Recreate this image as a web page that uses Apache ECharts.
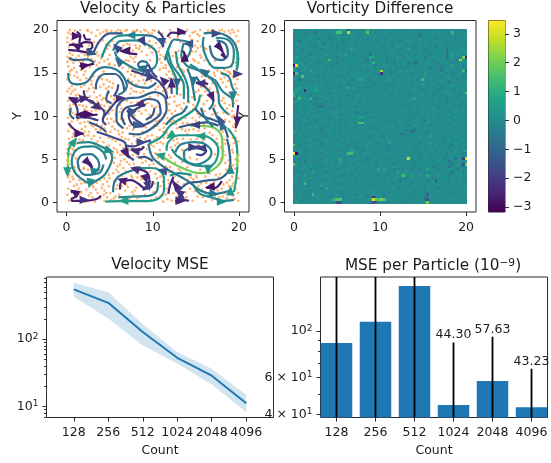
<!DOCTYPE html>
<html><head><meta charset="utf-8"><style>html,body{margin:0;padding:0;background:#fff}#c{width:551px;height:463px}</style>
<script src="https://cdn.jsdelivr.net/npm/echarts@6/dist/echarts.min.js"></script></head>
<body><div id="c"></div><script>
const counts=['128','256','512','1024','2048','4096'];
const velMean=[552,348,128,53,28.7,11.2];
const velUpper=[692,501,167,64.6,36.5,15];
const velLower=[428,204,81,43.4,21.3,8.2];
const perParticle=[87.6,110.4,163.8,44.30,57.63,43.23];
const errHigh=[600,600,600,87.9,93.6,65.9];
const errLow=[5,5,5,5,20,20];
const fieldTicks=[0,10,20];
const fieldYTicks=[0,5,10,15,20];
const barTicks=[-3,-2,-1,0,1,2,3];
const viridis=['#440154','#482475','#414487','#355f8d','#2a788e','#21918c','#22a884','#44bf70','#7ad151','#bddf26','#fde725'];
// streamlines: [speed fraction, points]
const streamlines=[
[.62,[[.2,3.5],[.15,4.3]]],[.85,[[.15,4.3],[.2,5.3]]],[.68,[[.2,5.3],[.3,6.3],[.9,7.1]]],
[.5,[[1.2,6.9],[2.6,7],[3.8,6.6],[5,5.9],[5.3,5.2],[5,4.2],[4.4,3.2],[3.4,2.5],[2.8,2.2],[1.8,2.7],[.9,3.6],[.6,4.8],[.9,5.8],[1.7,6.4],[3,6.5],[4.2,5.9],[4.6,5]]],
[.45,[[4.3,4.4],[3.9,3.5],[3.2,3.3],[2.2,3.2],[1.5,3.8],[1.3,4.7],[1.8,5.5],[2.8,5.6],[3.6,5],[3.8,4.2],[3.4,3.6]]],
[.1,[[2.2,4.9],[2.6,4.4],[3,4],[2.7,4.6],[2.3,4.8]]],
[.1,[[.5,1.2],[1,1.3],[1.2,.8],[.6,.4],[.6,.2],[2.2,.2],[3.5,.4],[4,.8]]],
[.6,[[4.5,.1],[6.5,.15],[9,.15],[10.7,.5],[11.3,1.5],[11.3,2.7],[10.8,3.7],[9.8,4],[8.2,4]]],
[.45,[[5.4,1.2],[5.5,2.2],[6,3],[7,3.5],[8.2,3.9]]],
[.5,[[6,.6],[8,.7],[9.7,.8],[10.5,1.4],[10.6,2.4]]],
[.12,[[6.2,1.5],[6.4,2.5],[7.5,2.6],[8.3,2.2],[9,1.7],[9.6,2.6],[9.3,3.5],[8,4],[7.8,4.1]]],
[.15,[[8.8,1.5],[9.8,1.8],[10,2.5]]],
[.12,[[12.6,.1],[13.2,.3],[14.2,.2]]],[.12,[[12.3,2.6],[12.6,1.8],[13,1.2],[13.6,.5]]],[.12,[[11.8,1],[12,2],[12.4,3]]],
[.78,[[10.9,5.5],[12.8,4.3],[15.5,3.4],[17,3.8],[18.1,5.3],[18,7.6],[16.7,8.8],[14.3,8.9]]],
[.58,[[9.5,6.8],[11,7.6],[12,8.9],[14,10.2],[15,11],[15.5,12.5]]],
[.45,[[9.5,6.8],[10,5.2],[11.6,3.9],[13.9,2.6],[15.5,1.4],[17,1],[19,1.4]]],
[.65,[[19.4,1.2],[19.7,3],[19.8,4.2]]],[.8,[[19.8,4.2],[19.8,5.6]]],[.6,[[19.8,5.6],[19.6,7.2],[18.7,8.6]]],
[.6,[[11.6,6],[11.8,7],[13,7.8],[15.5,7.8],[17,7.2],[17.6,6],[17.3,4.8],[16.5,4]]],
[.55,[[12.2,6.2],[12.8,5.4],[14.5,4.4],[16,4.2]]],
[.5,[[12.6,5.8],[13.2,6.7],[14.8,7],[16,6.8],[16.8,5.8],[16.3,4.9],[15,4.4],[13.7,5],[13.6,5.8],[14.5,6.3],[15.8,6.2]]],
[.2,[[14.7,6.4],[15.3,6.5],[16.2,6],[15.6,5.5],[15,5.6]]],
[.35,[[12.9,1.2],[14,2.2],[15.3,2.4],[16.5,2.6],[17.6,2.7],[18.6,3.4],[19,4.5],[18.8,6.5],[18.6,7.4]]],
[.06,[[16.2,1.7],[17.2,1.7],[18,2.5]]],
[.5,[[14.6,2.2],[15.5,1],[16.8,.6],[18.2,.2],[19.4,.3]]],
[.3,[[13,8.7],[14.8,9.1],[16.3,9.3],[17.6,8.9]]],
[.08,[[.2,17.7],[1.2,17.6],[2.8,17.3]]],[.08,[[1.2,19.8],[1.6,19.3],[1.5,18.6],[1.9,18]]],[.08,[[1.2,18],[2.2,18.6],[2.9,18.5],[3,18],[2.3,17.7]]],[.08,[[2,19.5],[2.3,18.9],[2.8,18.9]]],[.08,[[.3,18.3],[1.2,18.2]]],
[.3,[[3.1,17.3],[3.9,18.8],[5,19.6],[6.5,19.6]]],
[.55,[[4.1,16.8],[4.8,18.4],[6,19.3],[7.5,19.4],[9,19.4]]],[.4,[[9,19.4],[10.2,19.2],[11,18.5]]],
[.5,[[5.4,17.6],[6.2,18.7],[8,18.8],[9.2,18.4],[10.3,17.6],[10.5,16.5],[10,15.5],[8.7,15.3],[7,16],[5.9,16.8],[5.6,17.5]]],
[.08,[[5.7,18],[6.8,17.4],[8.2,17.2]]],
[.4,[[8.6,15.4],[8.3,16],[8.8,16.4],[9.4,16.1],[9.1,15.5]]],
[.45,[[.2,15],[.4,14],[1.3,13.7],[2.4,14],[3.4,15.3],[4.5,15.7],[5.8,15.4],[6.6,14.6],[7,13.5],[6.6,12.8],[6,12.5]]],
[.35,[[3.4,13.1],[3.5,14],[4.4,14.9],[5.6,14.9],[6.4,14.2],[6.7,13]]],
[.06,[[1.5,15.8],[2.4,15.9],[3.2,16.1]]],
[.25,[[5.5,12.3],[5.9,13.1],[6,13.7]]],
[.15,[[.3,12.2],[1,11.6],[1.8,12],[2.8,11.8],[3.8,11]]],
[.2,[[1,11.5],[1.3,10.5],[1.2,9.8],[2,9.9],[3.7,9.5]]],
[.2,[[2,13],[2.3,12],[3.7,11.2],[4.4,10.4],[4.2,9.5],[4.6,9]]],
[.05,[[1.5,10.3],[2.4,10.1],[3.6,10.2]]],
[.15,[[.2,9.2],[1,8.4],[2,7.9]]],
[.25,[[4.3,9.9],[5.4,11.3],[6,12]]],
[.25,[[3.5,8.2],[5.5,7.5],[6.8,6.9],[7,5.7],[7.8,4.9]]],
[.25,[[6.9,6.6],[7.8,6.5],[9,7],[9.8,7.2]]],[.12,[[7.5,6.2],[8.5,6.1],[9,6.5]]],
[.35,[[6.6,8.6],[5.8,9.5],[5.8,10.8],[6.8,12],[8.5,12.2],[10.2,12.8],[11.4,12.2],[11.6,10.8],[11,9.6],[9.6,8.4],[8.3,7.9],[7.2,8]]],
[.3,[[6.8,9],[6.4,10],[6.9,11],[8.2,11.3],[9.4,12],[10.6,11.7],[10.9,10.4],[10,9.5],[9,9]]],
[.2,[[7,10.7],[8,9.6],[9,8.9],[8.2,8.8],[7.5,9.2],[7.2,10.2],[8,10.8],[9.2,11.4]]],
[.2,[[10.6,19.8],[11.2,19],[11.2,18]]],[.12,[[11.7,19.2],[12.2,19.7],[13.8,19.6]]],
[.45,[[11.4,16.5],[11.9,18],[12.5,18.9],[14.2,18.6]]],
[.55,[[11.8,17.5],[12.2,16],[13.1,14.7],[13.6,13.6],[13.6,12]]],
[.55,[[12,18.2],[11.6,17],[12.2,15.5],[12.8,14],[12.8,12.5]]],
[.3,[[12.1,14.4],[12.2,12.6]]],
[.45,[[13.9,16.7],[14.4,17.8],[14,18.6]]],
[.45,[[14,15.5],[14.4,14.5],[14.7,13],[14.9,11.8]]],
[.45,[[15.9,19.6],[17,19.7],[18.6,19.3],[19.6,18.2],[19.9,16.5],[19.7,15.3]]],[.65,[[19.8,17.5],[19.8,15.6]]],
[.5,[[15.9,19.2],[15.8,18.4],[16.2,16.8],[17.2,15.6],[18.2,15.6],[19.2,16],[19.4,17.4],[18.8,18.8],[17.3,19.1]]],
[.4,[[16.6,18.2],[17,16.9],[18,16.5],[18.7,17.2],[18.4,18.4],[17.4,18.8]]],
[.08,[[17.5,18],[18,17.6],[18.4,16.8],[17.9,17.2]]],
[.5,[[14.3,16],[15,15.6],[16,14.8],[17.2,14.2],[18,13],[18.6,12.5],[19.2,12],[19.3,11]]],
[.5,[[13.6,18.5],[13.3,17],[13.9,15.9],[14.8,15.5],[16,15],[17.2,13.8],[17.6,12.6],[17.7,11.5],[18.8,10.2]]],
[.4,[[15,14.6],[15.6,13.8],[16.6,12.8],[17,11.6],[16.5,10.8]]],
[.1,[[15,13.9],[15.9,13.9],[16.4,13.7]]],
[.06,[[13.5,17.6],[13.8,17],[14,16.5]]],
[.1,[[19.9,11.3],[19.7,9.4],[19.6,8.6]]],
[.42,[[14,11.2],[13.4,10.4],[12.5,10],[11.5,9]]],
[.35,[[14.9,10.9],[15.8,10],[17,9.6],[18.3,9]]],
[.35,[[17,11],[17.5,9.8],[18.4,8.5],[18.7,7.5]]],
[.2,[[7.5,15.3],[9,14.8],[10.4,14.3],[11.3,13.3],[11.7,12]]],
[.25,[[9.5,16],[10,15],[10.5,14.5]]],
[.55,[[12.7,17.5],[12.9,16],[13.7,14.5],[14.1,13],[14.1,11.6]]],
[.45,[[15.6,11],[16,9.9],[17,8.8]]],
[.3,[[10.2,11],[10,10.2],[9.2,9.6]]],
[.3,[[2.6,9.3],[3.8,8.8],[4.6,8.2]]],
[.35,[[.3,16.8],[1,16.5],[2.4,16.6],[3.2,16.2]]],
[.4,[[7,14.2],[8,13.5],[9.4,13.3],[10.4,13.9]]],
[.3,[[4.9,13],[4.6,12],[5.2,11.5]]],
[.5,[[17.9,15],[18.8,14.6],[19.2,13.4],[19.6,12.6]]],
[.4,[[.5,11],[.4,10.3],[.9,9.7]]],
[.55,[[12,3.1],[13,3.4],[14.5,3.2]]],
[.3,[[10,4.8],[9,5.3],[8.3,5.2]]]
];
// arrowheads: x, y, dx, dy, speed fraction
const arrowHeads=[[1.2,19.3,1,0,.08],[1.1,18.2,-1,.5,.08],[3,17.3,1,-.3,.3],[2.2,15.9,1,.2,.06],[.7,12,-1,.5,.1],[2.1,12.1,1,.2,.12],[3.3,11.1,-1,-.2,.15],[2.7,10.2,1,0,.05],[1.6,10.2,-1,0,.05],[1.5,8,1,0,.08],[.9,7.1,.6,.8,.62],[.1,3.5,0,-1,.6],[3.4,3.7,1,.2,.5],[2.7,2.2,-.2,-1,.55],[5,6,1,-.3,.55],[2.5,4.6,.5,-.5,.1],[.9,1.2,-1,.6,.08],[2.1,.3,1,0,.15],[6.6,.2,-1,0,.62],[7,5.6,.5,-1,.15],[7.9,6,-1,.2,.15],[8.7,7,1,0,.25],[6.4,2.6,-1,.3,.1],[7.9,3.9,-1,.3,.15],[9.2,2.7,.3,-1,.12],[9.5,1.9,.3,-1,.2],[11.1,3.7,-1,.2,.3],[12.7,2,-.6,1,.12],[13,1.2,-.8,.6,.15],[13.5,.3,1,0,.2],[10.8,5.5,-1,.3,.62],[12,7.7,-.7,-.5,.65],[15.5,7.7,-1,0,.62],[14.9,9,-1,0,.2],[16.4,3.8,0,-1,.55],[15.6,6.3,-1,0,.2],[19,3.9,0,1,.5],[18,9,-.4,1,.4],[19,1.4,0,1,.6],[18,.1,1,0,.55],[17.1,1,1,-.2,.45],[13.2,.2,1,0,.12],[16.6,1.8,-1,-.1,.05],[7.4,19.4,-1,0,.5],[13.4,19.8,1,0,.08],[8.9,18.6,.5,-1,.2],[11.1,18.5,0,-1,.3],[14.1,18.4,-1,0,.3],[17.4,19.6,1,0,.25],[17.8,18,.7,-.7,.08],[13.7,16.9,0,1,.06],[5.8,18,-.7,.7,.25],[6.8,17.6,-1,0,.08],[6,16.4,-.7,.7,.4],[8.9,15.3,.1,-1,.4],[9.5,14.4,-.7,-.7,.2],[11.2,14.2,-.7,.7,.12],[12.8,13.8,0,-1,.35],[15.9,15.2,-.8,.6,.4],[14.7,14,0,-1,.45],[15.5,13.8,-1,0,.15],[16.9,12.2,.5,-1,.1],[17.8,9.6,-.5,1,.3],[19.3,12.3,0,-1,.5],[19.9,14.9,1,0,.2],[19.8,9.4,0,-1,.1],[6.3,12.1,1,.1,.15],[8.4,11.4,-1,-.2,.15],[7.4,10.7,-.7,.7,.3],[8.3,9,1,0,.35],[6.9,5.7,.5,-1,.1],[14.7,6.4,1,0,.2],[12.2,13.9,0,1,.1],[9.4,14.9,0,-1,.3]];
// particle positions x,y read region by region
const particles=[
.3,.2,1.1,.7,1.9,.4,2.6,.8,3.3,.1,3.9,.5,4.7,.6,5.2,.3,6.1,.9,7.3,.4,8.2,.5,9.1,.9,9.8,.3,10.9,.8,11.7,.4,12.2,.2,13.9,.6,14.6,.2,15.2,.7,16.1,.1,16.9,.3,17.7,.6,18.6,.5,19.3,.8,19.9,.2,.1,.9,4.3,.9,5.7,.7,8.8,.2,11.2,.1,
.2,1.6,.9,1.9,1.7,1.2,2.3,1.5,3.1,1.8,3.6,1.1,4.4,1.4,4.9,1.9,5.1,1.1,6.8,1.4,7.6,1.2,8.1,1.7,10.1,1.2,10.9,1.9,11.6,1.6,12.9,1.9,13.8,1.2,14.3,1.6,15.3,1.9,16.1,1.2,17.5,1.4,18.4,1.1,18.8,1.9,19.6,1.6,19.9,1.1,7.1,1.8,2.8,1.1,4.1,1.7,
.4,2.4,1.2,2.1,2.1,2.3,3,2,3.9,2.6,4.7,2.4,5,2.8,6.9,2.1,7.6,2.9,8.7,2.7,10.2,2.2,11.8,2.6,12.9,2.4,13.6,2.1,15.1,2.9,16.2,2.3,17.1,2.4,18.2,2.1,18.9,2.6,19.3,2.2,19.9,2.8,.2,2.9,1.5,2.6,4.2,2.1,5.9,2,11.9,2.2,14.7,2.7,
.3,3.2,.7,3,2,3.9,1,3.7,4.7,3.6,5.4,3.4,6.4,3.1,7.5,3.1,8.6,3,10.3,3.3,11.9,3.5,12.6,3.1,13.2,3.7,14.2,3.2,15,3.1,16.1,3,17.8,3.3,18.5,3.8,19.2,3,19.8,3.6,.1,3.8,5.8,3.8,9.1,3.8,12.3,3.6,14.4,2.9,17.3,3.2,
.3,4.4,.9,4.1,2,4,5.5,4.6,5.9,4.2,6.6,4,7.3,4.4,8.8,4.6,9.6,4.3,10.4,4,11,4.4,12,4.1,13,3.9,13.4,4.7,16.8,4.2,18.4,4.6,19.3,4.3,19.9,4.8,.1,4.9,6.3,4.8,7.8,4.5,9.2,4.8,10.7,4.7,11.8,4.8,18.8,4.9,
.5,5.6,1.1,5.1,5.6,5.2,6.2,5.5,6.7,5,8.2,5.3,9,5.6,9.5,5.1,10.3,5.7,11.3,5,11.9,5.5,14.3,5.2,17.9,5.1,18.4,5.5,19.3,5.8,19.6,5,.1,5.7,5.9,5.8,7.7,5.5,8.7,5.1,10.6,5.2,12.1,5.2,13.1,5.3,15.1,5,17.2,5.6,
.6,6.3,1.1,6.8,.1,6.2,5.5,6.3,6.2,6.7,7.2,6.1,8.3,6.7,9.3,6.2,10.1,6.5,10.8,6.1,11.2,6.8,12.1,6.4,13.4,6.1,14.2,6.6,15.3,6.7,17.9,6.4,18.4,6.8,19.2,6.1,19.7,6.6,3.4,6.8,4.4,6.4,10.5,6.9,12.6,6.6,17.5,6.9,
.3,7.4,1.5,7.3,2.1,7.7,2.9,7.4,3.6,7.1,4.3,7,4.9,7.5,5.7,7.1,6.4,7.6,7.2,7.3,7.8,7.7,8.5,7.5,9.4,7.7,10.2,7.3,10.9,7,11.3,7.5,12.4,7.2,13.5,7.4,14.4,7.3,15.8,7.2,16.9,7.8,17.9,7.8,18.3,7.3,19.3,7.5,19.9,7.1,.9,7.8,3.2,7.7,4.6,7.8,
.2,8.3,.8,8,1.8,8.5,2.6,8.2,3.1,8.8,3.9,8.4,4.6,8.1,5.3,8.8,6,8.3,7,8.6,7.7,8.4,8.8,8.2,10.1,8.7,10.8,8.4,11.6,8.1,12.3,8.2,13.4,8.5,14.2,8.4,15.3,8.3,16.6,8.1,17.4,8.4,19,8.2,19.3,8.8,2.2,8.8,3.4,8.5,4.1,8.9,11.2,8.2,
.4,9,1.6,9.2,2.5,9.4,2.9,9,3.3,9.6,4.9,9.2,5.2,9.7,6.1,9.1,6.6,9.6,9.5,9.3,10.2,9,10.7,9.5,12.1,9.3,12.7,9.1,13.2,9.6,14,9.2,15,9.5,15.9,9.1,16.5,9.7,18.9,9.4,19.2,9.9,.2,9.8,4.7,9.7,11.3,9.2,13.8,9.8,
.7,10.4,.3,10.8,2.1,10.8,2.9,10.6,3.2,11,4.9,10.3,5.3,10.7,6.2,10.5,7.9,10.1,8.7,10.3,9.2,10.7,10.1,10.5,10.6,10.2,11.9,10.7,12.6,10.6,13.3,10.9,14.3,10.5,15.2,10.3,16,10.6,16.9,10.2,18.2,10.4,18.6,10.9,19.2,10.6,3.8,10.9,5,10.9,
.4,11.2,1.5,11.3,2.3,11.1,2.8,11.5,4.4,11.2,4.7,11.6,5,11.1,6.2,11.3,7.5,11.6,8.7,11.7,9.9,11.2,10.4,11.1,11.9,11.4,12.5,11.7,13.1,11.3,14.2,11.6,15.4,11.8,15.9,11.4,16.3,11.8,18.3,11.5,18.9,11.3,19.7,11.8,.2,11.8,3.6,11.7,4.1,11.9,
.5,12.6,1.4,12.5,2.7,12.3,3.2,12.8,3.9,12.4,4.3,12.1,4.9,12.7,5.5,12,7.4,12.6,8.1,12.8,9.2,12.5,11.2,12.9,12,12.2,13.2,12.5,14.1,12.3,15,12.8,15.7,12.4,16.1,12.9,16.8,12.1,18.2,12.1,19.9,12.5,.1,12.9,6.2,12,8.9,12.9,
.3,13.2,1,13.1,1.7,13.4,2.6,13.2,4.3,13.7,4.9,13.4,5.4,13.8,7.5,13.2,8.1,13.7,8.8,13.3,9.7,13.5,10.3,13.1,10.9,13.6,11.7,13.2,12.4,13.4,14,13.3,15.3,13,16.2,13.4,16.9,13.8,18.5,13.4,19.1,13.6,19.7,13.2,2.9,13.7,4.6,13.2,5,14,
.1,14.3,.9,14.7,1.6,14.2,2,14.8,2.9,14.1,3.1,14.6,4.1,14.3,7.2,14.3,7.9,14.6,8.4,14.1,11.6,14.8,12.5,14.6,13.4,14.7,13.2,14.2,15.7,14.6,16.5,14.4,17.9,14.3,18.7,14.1,19.3,14.6,19.8,14.3,7.6,14,8.9,14.2,
.6,15.4,1.2,15.1,2.2,15.2,.2,15.8,7.3,15.6,7.1,15.2,8,15,11.2,15.6,11.9,15.2,12.8,15.7,13.4,15.4,16.5,15.3,17.1,15,17.9,15.1,18.7,15.2,19.4,15.2,19.1,15.7,3.5,15.9,4.3,15.2,5.6,15.9,6.5,15.6,
.6,16.5,.1,16.3,1.1,16.7,1.9,16.3,2.9,16.6,3.8,16.2,4.4,16.4,5,16.1,7.9,16.3,8,16.9,9.7,16.5,11,16.2,11.5,15.9,13,16,14.7,16.6,15.3,16.2,15.6,16.8,17.2,16.4,19.6,16.2,6.9,16.5,7.4,16.9,12.9,16.7,
.4,17.3,.1,16.9,1.4,17,2.1,17.1,3.3,17.7,3.7,17,4.4,17.5,5,17.1,7.4,17.9,8.7,17.5,9.3,17.1,9.9,17.4,10.9,17.1,12.6,17.4,14.3,17.2,15,17.5,15.5,17.1,16.2,17.8,19.8,17.3,8.1,17.9,
.1,18.6,.6,18.9,3.2,18.6,3.5,18.1,4.2,18.8,5,18.2,6.6,18.2,7.3,18.3,8,18.2,9.9,18.2,10.4,18.5,10.8,17.9,13.2,18.6,14.9,18.2,15.2,18.7,16,17.9,19.9,18.7,
.2,19.7,.8,19.2,2.9,19.7,3.4,19.3,4.3,19.8,5.2,19.9,6.3,19.9,7.7,19.9,8.6,19.8,9.5,19.7,10.2,19.9,11.1,19.6,12.9,19.2,14.3,19.3,14.9,19.8,15.4,19.3,16.4,19.9,18.3,19.8,19,19.6,19.7,19.3,19.9,19.9,
.4,20,1.6,20,2.4,20,3.6,20,4.6,20,6,20,7,20,8.2,20,9,20,10,20,12,20,14,20,15.5,20,17,20,18,20,19.2,20];
const particlesMore=[
.6,.5,1.5,.9,2.2,.1,3,.6,4.4,.2,5.5,.5,6.6,.6,7.8,.9,8.5,.7,10.4,.6,11.5,.9,12.8,.7,13.4,.9,15.8,.6,17.2,.8,18.1,.7,19.5,.4,
.6,1.3,1.4,1.6,3.4,1.5,4.6,1.1,5.8,1.6,6.4,1.9,7.9,1.4,10.6,1.7,12.4,1.1,13.1,1.5,14.9,1.3,15.7,1.5,17,1.9,18,1.6,19.2,1.9,
.8,2.7,1.7,2.2,2.5,2.6,3.5,2.3,4.4,2.8,5.5,2.5,6.3,2.7,8.2,2.9,10.5,2.8,11.2,2.4,13.3,2.9,14.1,2.6,15.6,2.2,16.7,2.1,17.6,2.9,18.6,2.3,19.6,2.5,
1.4,3.1,.4,3.6,2.5,3.8,4.9,3.2,6,3.5,6.9,3.6,8.1,3.4,9.7,3.6,10.9,3,11.3,3.3,13.7,3.3,15.5,3.8,16.6,3.4,18.9,3.4,19.5,3.9,
.6,4,1.4,4.3,5.2,4.8,6.2,4.4,7,4.7,8.2,4.1,9.9,4.9,10.1,4.5,11.5,4.2,12.6,4.6,14,4.1,17.7,4.4,18.9,4.2,19.7,4.4,
.8,5.4,5.3,5.7,6.5,5.6,7.3,5.2,8.4,5.7,9.8,5.8,10.9,5.4,12.4,5.9,13.7,5.6,16.6,5.3,18.2,5.9,19,5.3,19.9,5.5,
.3,6.7,.8,6.1,4.9,6.6,5.8,6.1,6.6,6.3,7.6,6.8,8.8,6.4,9.8,6.7,11.6,6.5,12.9,6.9,14.8,6.2,16.4,6.5,18.1,6.1,18.9,6.6,19.4,6.9,
.7,7.6,1.9,7.2,2.5,7.8,3.9,7.5,5.3,7.3,6.1,7.9,6.8,7.4,8.1,7.1,9.1,7.4,9.9,7.8,10.5,7.6,11.8,7.8,12.8,7.4,14,7.9,15.1,7.4,16.2,7.6,17.4,7.4,18.7,7.7,19.6,7.5,
.5,8.7,1.3,8.3,2.1,8.2,3.5,8.9,4.4,8.6,5.1,8.2,5.6,8.5,6.5,8.1,7.3,8.9,9.2,8.7,10.5,8.9,11.3,8.7,12.8,8.6,13.8,8.3,14.7,8.5,16,8.6,16.9,8.7,18.1,8.2,19.6,8.3,
.6,9.4,1.3,9.6,2.1,9.3,3.5,9.1,4.2,9.8,5.5,9.4,6.3,9.7,9.8,9.8,10.4,9.4,11.7,9.8,12.4,9.5,13.5,9.2,14.6,9.8,15.4,9.9,16.2,9.4,17.8,9.1,18.4,9.6,19.5,9.1,
1,10.2,.5,10.6,2.4,10.6,3.4,10.7,4.5,10.7,5.7,10.2,6.4,10.9,7.4,10.3,8.4,10.6,9.6,10.2,11.3,10.2,12.2,10.3,13.7,10.6,14.7,10.8,15.6,10.7,17.5,10.4,18.9,10.2,19.4,10.1,
.8,11.4,1.9,11.2,3.1,11.7,4,11.3,5.2,11.5,5.7,11.8,7,11.8,8.2,11.6,9.4,11.5,10.8,11.1,11.5,11.6,12.8,11.2,13.6,11.5,14.7,11.3,17.2,11.2,18,11.8,19.4,11.5,
.7,12.9,1.1,12.4,2,12.7,2.4,12.9,3.5,12.2,5.2,12.3,7.8,12.9,8.6,12.7,9.7,12.2,10.6,12.4,11.6,12.8,12.5,12.3,13.7,12.6,14.6,12.2,17.4,12.8,18.9,12.7,19.4,12.9,
.6,13.5,1.3,13.7,2.1,13.6,3.1,13.3,3.9,13.4,5.3,13.3,7.2,13.8,9.1,13.8,10.6,13.4,11.4,13.9,12.9,13.2,15.6,13.4,16.6,13.2,17.6,13.5,18.1,13.9,19.5,13.7,
.4,14.8,1.3,14.5,2.3,14.4,3.7,14.6,4.7,14.2,7.5,14.8,8.7,14.7,9.8,14.1,11.9,14.4,12.3,14.9,16,14.2,17.2,14.7,18.3,14.5,19,14.9,19.6,14.7,
.9,15.6,1.7,15.4,2.7,15.7,.4,15.2,3.8,15.5,4.9,16,6.2,15.9,7.7,15.5,10.8,15.4,11.5,15.6,12.4,15.3,13.6,15.2,14.2,15.5,17.5,15.3,18.3,15.4,18.9,15.1,19.7,15.8,
.3,16.6,.8,16.2,1.5,16.4,2.5,16.9,3.3,16.4,4,16.7,4.8,16.6,7.2,16.4,7.7,16.7,10.8,16.6,11.3,16.9,13.4,16.3,14.9,16.4,16,16.5,16.6,16,19.9,16.6,
.7,17.1,1.8,17.4,2.5,17.2,3.5,17.4,4.1,17.1,4.7,17.8,7.7,17.6,8.4,17.8,9.6,17.9,10.7,17.5,12.3,17,13,17.6,14.6,17.5,15.2,17.9,15.9,17.6,19.6,17.7,
.3,18.1,.8,18.5,2.6,18.2,3.6,18.5,4.6,18.3,5.3,18.7,7,18.4,8.5,18.1,9.6,18.7,11.5,18.6,12.9,18.9,14.5,18.9,15.6,18.1,19.6,18.4,
.5,19.5,1,19.9,.1,19.1,2.5,19.9,3.9,19.6,4.7,19.8,5.7,19.8,6.8,19.9,8.1,19.9,9.2,19.9,9.9,19.6,10.7,19.9,12,19.1,13,19.9,14.6,19.7,15.2,19.5,16.8,19.9,17.7,19.9,18.8,19.9,19.4,19.7];
// vorticity difference, 64x64 cells top row first: . 0, a -.25, b +.25, A -.6, B +.6
const vortRows=[
'..a....b..a..b...BB.B...a..B.......b...a....b.....a.....b...a..b',
'b...a...A..b...b..........b...a..b...b.....a..a....b...a....b..a',
'..b..a...b...a....a..b..a.....b......a...b....A...b.....a.b....b',
'a.....b..a...a..b.....b....a.b...a..b....a......b...a......a...b',
'..A.b....b....a...a..b....a.....b...a..A..b..a......b...a..b....',
'.b....a..b.A...b..a....a..b...a....b.....a....b...a...b.....a..A',
'a..b....a...b...a.....b....a...b....a.b.....a...b...A.....b...a.',
'...a.b....a...b...a..B....b....a...b...a..B.....a...b...A.....b.',
'.b.....a..b...a.....a....b..a.....a.b.....a...b.....a...A..b...B',
'a...b.a.....b....b.B..a.....Ab.....b...a......b...a..b..A.B.B..a',
'.B..a...b...a...a.....b...a.BB....a...b...b.....A..b....A.B...b.',
'B...b...a....a....a.....b..A.A..b....a.....b.......a..b....a.a..',
'..B.a.b..a...b..a....b.....a...b..A..a..b.a.AA...b..a.....a..b..',
'A..b..a...b...a......a...b....A..b...a....a.....b.....a...B...a.',
'b...B.b.....a....b......a...b...a.b...a.......b...A...a.b.....b.',
'..a...B..a...b...a.b.......a...b...a...B.B.b..a...b...A........b',
'.b......b..a...b....a...b.....a.....a......a....B.....b...a..b..',
'a...b....a....b..a.....b..B...b...b...a...b...a.......a..b....a.',
'..A....b...a.....b...a..BB..a......B...b.....a..b....b......a..b',
'.b...a.A..b...a...b.....a.....a.b...a....b.......a....b..A....a.',
'a.....b.....a...b...a....b...a.....a...b...a...b.....a....b....B',
'..B..b..b..a.....a.BB.B....a...b....a.....b...a...b...a.....b...',
'.B..a...Bb....b.......a.a..b.....a...b.a....b..a..b..a.....a..b.',
'B.a.....b....a...b....a.....b...a.....b......a.....a...b.b...a..',
'..b...a....b...b....a...b....a...b..a.....a....b...a..a..b...a..',
'a...b...a...b....a.....b...a....b.....b.....B.....a.b...a.....b.',
'.B....a...b...a....b....a.....a...a.....a......a....b...a..b..a.',
'.a..b...A.A..b...a...b.....a.b...a...b....a....b...a.....b.....b',
'a.....b..AA..a...a.....a.....b....b....a....b....a...a...b...a..',
'..b.a.....b...a...b.....b.b....a.....a...b...a.....b....a...b...',
'.a...b...a....b.....a..a...a.....b.....b.....a...b.....a...b...a',
'b..a.....b..a....a...b...a...b....a.a....b.a...b.....a...b....a.',
'.....a.b.....a..b.....b.BB...a..b.....a.....a....b...a..a..b..b.',
'..a.b...a...b....a..b....a...b.....a...b.....b..A...b....b....a.',
'a.....a....b...a....b...a...b...b....a...a.....a.b...a......b...',
'.b..a...b.....b..a...b...a....b.....b.....a.b.....a...b..a.....a',
'..a...b...a.....b..a....b...a.a..b....a.....a...b.b....a.b...a..',
'B....b....a..b...a....a.....b.....a...b..a.AA....a...b....b....a',
'.a.....a.....b....b.......a...b......a.AA.....a...b..a.....a..b.',
'..b.a...b...a.....a...b.....a...a.b......a....b...B....a...b...a',
'a.....b.a...b...a...b.....a.....b....a...b..a..b...a.....b....b.',
'.b..a.....a..b.....b...a....b..a...B...b......a...b....a...b..a.',
'B.a...b...a.....b...a...b....a.....a....b....a....b..a....A....b',
'.........b....a..b.....a...b......a...a...b.....a...b....a...a.A',
'..b.a.....b......a...BB..a.....b...a......b..a......a.b....b...B',
'b...a.b...a...b..b..a.....b...a...b..a..........b...a...a.....a.',
'.B...a.....b.....a...a...b.....a....b...a.b...a.....b...a...b...',
'..a...b...a.b....B.....b...a..b...a......b....a.b......a...A..b.',
'a...A...a...b....B.a.b.....a.......b..a.....a...b....b...A.....b',
'.b....b..a....b..b....a.b.....a.b...a....a...b.......a....A.b..a',
'..a.......a...b...a.......b...a...b.B.b.b...a.b..b.A.....A....a.',
'a..b..a....b....a...b..a.......B.B...a.....a..a..B...a...b..A..b',
'...a...B....a...b.....b...b..a....a...B..b...a...a......b.A...a.',
'.b..B...a...b....a...a....b....a.......b...B..b..a...b...a...b..',
'..a...B.a..b...a.....b....a...b..a...b...a.....b...A....b...a..a',
'b.....a....a.b...b.....a.....b...a.....A.....b...a.b.....a...b..',
'..a.b.....b.....a...b.....a...b.....a...b..a.......b...a..b...a.',
'.b....a...B...a....b...a.....a....b...a.....b...a....b...a.....b',
'a...b.....a.B...b.....a.....b..a....b..a.......b.....a...b...a..',
'.a.....b...a.....a...b...a...b.....a.....b..a...A....b..a...b..b',
'..b...a...b...a.b......a.....b...a....b....a......b.......a.....',
'b....a...b...a....a.....b..A.....a...b...a....a.A...b...a...b..a',
'...a.....b....BBB.....a.....B.BB.B....b.....a...A.....a...b....b',
'.B...b...a...b..AA...a...b..AA.....a....a.......B.....b...a...b.'];
// standout cells: column, row from bottom, value
const vortSpots=[[16,62,1.5],[17,62,1.5],[20,62,2.8],[20,63,-1.2],[27,62,1.6],[58,62,1.2],[13,52,1.3],[0,50,-2.9],[1,50,3.1],[0,47,-2.5],[1,47,1.5],[3,46,1.6],[4,41,-2.3],[0,39,1.3],[2,38,1.3],[6,38,1],[32,48,2.5],[32,47,-2.2],[29,51,1],[61,52,2.6],[62,53,2.1],[63,53,-2.3],[63,48,-1.3],[63,40,1.9],[62,48,1.5],[47,45,1.3],[24,29,1.6],[25,29,1.6],[0,21,1.8],[0,18,3.3],[1,18,-3.2],[0,14,1.8],[20,18,1.4],[21,18,1.4],[42,16,2.7],[63,16,3.1],[62,16,-2.1],[63,14,2.1],[62,14,-1.6],[16,1,1.6],[17,1,1.7],[15,1,1.4],[16,0,-1.5],[17,0,-1.5],[29,1,3],[29,2,-2.2],[30,1,1.7],[31,1,1.7],[32,1,2.1],[33,1,1.5],[29,0,-1.5],[30,0,-1.5],[49,0,1.9],[49,1,-1.6],[49,3,-1.1],[40,10,1.4],[49,10,1],[52,8,-1.2],[4,7,1.4],[7,3,1.3]];

function vir(t){t=Math.max(0,Math.min(1,t))*10;const i=Math.min(9,Math.floor(t)),f=t-i;
 const h=s=>[1,3,5].map(k=>parseInt(s.substr(k,2),16));const a=h(viridis[i]),b=h(viridis[i+1]);
 return 'rgb('+a.map((v,k)=>Math.round(v+(b[k]-v)*f)).join(',')+')';}
const speedColor=s=>vir(s<.75?s*.9:s);
const cbMin=-3.17,cbMax=3.46,CELL=0.3175,CELL0=-0.16;
const levels={'.':0,a:-.25,b:.25,A:-.6,B:.6};
const spotMap={};vortSpots.forEach(s=>spotMap[s[0]+'_'+s[1]]=s[2]);
const cells=[];
for(let r=0;r<64;r++)for(let c=0;c<64;c++){const ch=(vortRows[63-r]||'').charAt(c)||'.';
 const k=c+'_'+r;cells.push([CELL0+c*CELL,CELL0+r*CELL,k in spotMap?spotMap[k]:levels[ch]]);}
const pts=[];[particles,particlesMore].forEach(a=>{for(let i=0;i+1<a.length;i+=2)pts.push([a[i],a[i+1]]);});

const TXT='#1c1c1c',LINE='#2a2a2a',FS=12.5,FF='"DejaVu Sans"';
const font={fontFamily:FF,fontSize:FS,color:TXT};
const G=[{left:57,top:20.5,width:192,height:191.5},{left:284.5,top:20.5,width:191.5,height:191.5},{left:488.5,top:20.5,width:16.5,height:191.5},{left:46.5,top:277,width:227,height:140.5},{left:320.5,top:277,width:227,height:140.5}];
const grids=G.map(g=>Object.assign({show:true,borderColor:LINE,borderWidth:1,backgroundColor:'transparent',containLabel:false},g));
const tk=(vals,len)=>({show:true,length:len||4,customValues:vals,lineStyle:{color:LINE,width:1}});
const lb=(vals,fmt,extra)=>Object.assign({show:true,customValues:vals,margin:8,formatter:fmt,hideOverlap:false,showMinLabel:true,showMaxLabel:true},font,extra||{});
const noLine={show:false,onZero:false};
const fieldX=i=>({type:'value',gridIndex:i,min:-1.1,max:21.15,splitLine:{show:false},axisLine:noLine,axisTick:tk(fieldTicks),axisLabel:lb(fieldTicks,v=>String(Math.round(v)),{margin:9})});
const fieldY=(i)=>({type:'value',gridIndex:i,min:-1.1,max:21.1,splitLine:{show:false},axisLine:noLine,axisTick:tk(fieldYTicks),axisLabel:lb(fieldYTicks,v=>String(Math.round(v)))});
const idx=counts.map((_,i)=>i);
const catX=(i,mn,mx)=>({type:'value',gridIndex:i,min:mn,max:mx,name:'Count',nameLocation:'middle',nameGap:27,nameTextStyle:font,splitLine:{show:false},axisLine:noLine,axisTick:tk(idx),axisLabel:lb(idx,v=>counts[Math.round(v)],{margin:9})});
const expLabels={10:'10{s|1}',100:'10{s|2}',60:'6 × 10{s|1}',40:'4 × 10{s|1}'};
const logFmt=v=>expLabels[Math.round(v)]||'';
const supRich={s:{fontFamily:FF,fontSize:9,color:TXT,verticalAlign:'top',padding:[0,0,5,0]}};
const velMinor=[7,8,9,20,30,40,50,60,70,80,90,200,300,400,500,600,700,800];
const partMinor=[50,70,80,90];
const logY=(i,mn,mx,majors)=>({type:'log',logBase:10,gridIndex:i,min:mn,max:mx,position:'left',splitLine:{show:false},minorTick:{show:false},axisLine:noLine,axisTick:tk(majors),axisLabel:lb(majors,logFmt,{rich:supRich})});
const minorY=(i,mn,mx,vals)=>({type:'log',logBase:10,gridIndex:i,min:mn,max:mx,position:'left',splitLine:{show:false},minorTick:{show:false},axisLine:noLine,axisTick:tk(vals,2.4),axisLabel:{show:false}});
const xAxes=[fieldX(0),fieldX(1),
 {type:'value',gridIndex:2,min:0,max:1,show:false},
 catX(3,-.79,5.79),catX(4,-.41,5.41)];
const yAxes=[fieldY(0),fieldY(1),
 {type:'value',gridIndex:2,min:cbMin,max:cbMax,position:'right',splitLine:{show:false},axisLine:noLine,axisTick:tk(barTicks),axisLabel:lb(barTicks,v=>String(Math.round(v)).replace('-','−'))},
 logY(3,6.86,842,[10,100]),logY(4,38.6,180.7,[40,60,100]),
 minorY(3,6.86,842,velMinor),minorY(4,38.6,180.7,partMinor)];
const series=[];
series.push({type:'scatter',xAxisIndex:0,yAxisIndex:0,data:pts,symbolSize:2.6,silent:true,z:1,itemStyle:{color:'#ff7f0e',opacity:.6}});
streamlines.forEach(sl=>series.push({type:'line',xAxisIndex:0,yAxisIndex:0,data:sl[1],smooth:.35,showSymbol:false,symbol:'none',silent:true,z:2,lineStyle:{color:speedColor(sl[0]),width:2.2}}));
series.push({type:'custom',xAxisIndex:0,yAxisIndex:0,data:arrowHeads,z:3,silent:true,encode:{x:0,y:1},
 renderItem:(p,api)=>{const c=api.coord([api.value(0),api.value(1)]);let dx=api.value(2),dy=-api.value(3);const n=Math.hypot(dx,dy)||1;dx/=n;dy/=n;
  const L=5,W=4.2;return {type:'polygon',shape:{points:[[c[0]+dx*L,c[1]+dy*L],[c[0]-dx*L-dy*W,c[1]-dy*L+dx*W],[c[0]-dx*L+dy*W,c[1]-dy*L-dx*W]]},style:{fill:speedColor(api.value(4))}};}});
series.push({type:'custom',xAxisIndex:1,yAxisIndex:1,data:cells,silent:true,encode:{x:0,y:1},clip:false,
 renderItem:(p,api)=>{const x=api.value(0),y=api.value(1);const a=api.coord([x,y+CELL]),b=api.coord([x+CELL,y]);
  const x0=Math.round(a[0]),y0=Math.round(a[1]),x1=Math.round(b[0]),y1=Math.round(b[1]);
  return {type:'rect',shape:{x:x0,y:y0,width:x1-x0,height:y1-y0},style:{fill:vir((api.value(2)-cbMin)/(cbMax-cbMin))}};}});
series.push({type:'custom',xAxisIndex:2,yAxisIndex:2,data:[[0,cbMin,1,cbMax]],silent:true,encode:{x:0,y:1},
 renderItem:(p,api)=>{const a=api.coord([api.value(0),api.value(3)]),b=api.coord([api.value(2),api.value(1)]);
  return {type:'rect',shape:{x:a[0],y:a[1],width:b[0]-a[0],height:b[1]-a[1]},style:{fill:new echarts.graphic.LinearGradient(0,1,0,0,viridis.map((c,i)=>({offset:i/10,color:c})))}};}});
series.push({type:'custom',xAxisIndex:3,yAxisIndex:3,data:[[0,velMean[0]]],silent:true,z:1,clip:true,encode:{x:0,y:1},
 renderItem:(p,api)=>{const up=idx.map(i=>api.coord([i,velUpper[i]])),lo=idx.map(i=>api.coord([i,velLower[i]])).reverse();
  return {type:'polygon',shape:{points:up.concat(lo)},style:{fill:'rgba(31,119,180,.2)'}};}});
series.push({type:'line',xAxisIndex:3,yAxisIndex:3,data:idx.map(i=>[i,velMean[i]]),showSymbol:false,symbol:'none',silent:true,z:2,lineStyle:{color:'#1f77b4',width:2}});
series.push({type:'bar',xAxisIndex:4,yAxisIndex:4,data:idx.map(i=>[i,perParticle[i]]),barWidth:31.5,silent:true,z:1,itemStyle:{color:'#1f77b4'}});
series.push({type:'custom',xAxisIndex:4,yAxisIndex:4,data:idx.map(i=>[i,errLow[i],errHigh[i]]),silent:true,clip:true,z:3,encode:{x:0,y:2},
 renderItem:(p,api)=>{const a=api.coord([api.value(0),api.value(1)]),b=api.coord([api.value(0),api.value(2)]);
  return {type:'line',shape:{x1:a[0],y1:a[1],x2:b[0],y2:b[1]},style:{stroke:'#000',lineWidth:1.8}};}});
series.push({type:'custom',xAxisIndex:4,yAxisIndex:4,data:idx.filter(i=>errHigh[i]<180.7).map(i=>[i,errHigh[i],perParticle[i]]),silent:true,clip:false,z:4,encode:{x:0,y:1},
 renderItem:(p,api)=>{const a=api.coord([api.value(0),api.value(1)]);
  return {type:'text',style:{x:a[0],y:a[1]-1,text:api.value(2).toFixed(2),textAlign:'center',textVerticalAlign:'bottom',fontFamily:FF,fontSize:12.5,fill:TXT}};}});
const titles=[['Velocity & Particles',153,2],['Vorticity Difference',380,2],['Velocity MSE',160,258],['MSE per Particle (10{s|−9})',433,258]].map(t=>({text:t[0],left:t[1],top:t[2],padding:0,textAlign:'center',textStyle:{fontFamily:FF,fontSize:15.3,fontWeight:'normal',color:TXT,rich:{s:{fontFamily:FF,fontSize:10.7,color:TXT,verticalAlign:'top',padding:[0,0,6,0]}}}}));
const yNames=[18,245].map((x,i)=>({type:'text',id:'yname'+i,x:x,y:116,rotation:Math.PI/2,z:20,style:{text:'Y',align:'center',verticalAlign:'middle',fontFamily:FF,fontSize:FS,fill:TXT}}));
const chart=echarts.init(document.getElementById('c'),null,{renderer:'canvas'});
chart.setOption({animation:false,backgroundColor:'#fff',title:titles,tooltip:{show:false},legend:{show:false},grid:grids,xAxis:xAxes,yAxis:yAxes,series:series,graphic:yNames});
</script></body></html>
